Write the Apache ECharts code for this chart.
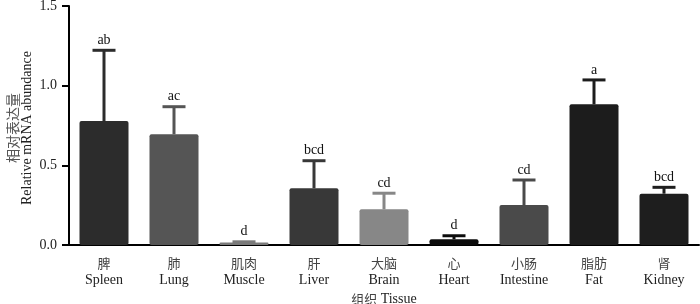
<!DOCTYPE html>
<html>
<head>
<meta charset="utf-8">
<script src="https://cdn.jsdelivr.net/npm/echarts@6/dist/echarts.min.js"></script>
<style>html,body{margin:0;padding:0;background:#fff}#c{width:700px;height:304px}</style>
</head>
<body>
<div id="c"></div>
<script>
var categoriesCn = ['脾','肺','肌肉','肝','大脑','心','小肠','脂肪','肾'];
var categoriesEn = ['Spleen','Lung','Muscle','Liver','Brain','Heart','Intestine','Fat','Kidney'];
var means = [0.778, 0.695, 0.015, 0.356, 0.224, 0.036, 0.251, 0.883, 0.322];
var errors = [0.444, 0.173, 0.005, 0.173, 0.101, 0.022, 0.157, 0.153, 0.040];
var letters = ['ab','ac','d','bcd','cd','d','cd','a','bcd'];
var barColors = ['#2c2c2c','#555555','#7a7a7a','#383838','#878787','#0c0c0c','#4a4a4a','#1c1c1c','#1e1e1e'];
var yTicks = [0, 0.5, 1.0, 1.5];
var yTitleCn = '相对表达量';
var yTitleEn = 'Relative mRNA abundance';

var serif = '"Liberation Serif","Times New Roman",serif';
var cjk = '"Noto Sans CJK SC",sans-serif';

var chart = echarts.init(document.getElementById('c'), null, {renderer:'canvas'});
chart.setOption({
  animation: false,
  grid: {left: 69, right: 1, top: 6, bottom: 59, containLabel: false, outerBoundsMode: 'none'},
  graphic: [
    {type: 'text', x: 12.5, y: 128, rotation: Math.PI / 2,
     style: {text: yTitleCn, fontFamily: cjk, fontSize: 14, fill: '#555', align: 'center', verticalAlign: 'middle'}},
    {type: 'text', x: 27.5, y: 128, rotation: Math.PI / 2,
     style: {text: yTitleEn, fontFamily: serif, fontSize: 14, fill: '#222', align: 'center', verticalAlign: 'middle'}}
  ],
  xAxis: {
    type: 'category',
    data: categoriesCn.map(function(c, i){ return c + '\n' + categoriesEn[i]; }),
    name: '{cn|组织} {en|Tissue}',
    nameLocation: 'middle',
    nameGap: 45,
    nameTextStyle: {
      rich: {
        cn: {fontFamily: cjk, fontSize: 13, color: '#444'},
        en: {fontFamily: serif, fontSize: 14, color: '#222'}
      }
    },
    axisLine: {lineStyle: {color: '#000', width: 2}},
    axisTick: {alignWithLabel: true, length: 5, lineStyle: {color: '#000', width: 2}},
    axisLabel: {
      margin: 10,
      interval: 0,
      formatter: function(v){
        var p = v.split('\n');
        return '{cn|' + p[0] + '}\n{en|' + p[1] + '}';
      },
      rich: {
        cn: {fontFamily: cjk, fontSize: 13, color: '#444', lineHeight: 17, align: 'center'},
        en: {fontFamily: serif, fontSize: 14, color: '#222', lineHeight: 17, align: 'center'}
      }
    },
    splitLine: {show: false}
  },
  yAxis: {
    type: 'value',
    min: yTicks[0],
    max: yTicks[yTicks.length - 1],
    interval: 0.5,
    axisLine: {show: true, lineStyle: {color: '#000', width: 2}},
    axisTick: {show: true, length: 7, lineStyle: {color: '#000', width: 2}},
    axisLabel: {
      margin: 12,
      fontFamily: serif, fontSize: 14, color: '#222',
      formatter: function(v){ return v.toFixed(1); }
    },
    splitLine: {show: false}
  },
  series: [
    {
      type: 'bar',
      barWidth: 49,
      data: means.map(function(v, i){
        return {value: v, itemStyle: {color: barColors[i], borderRadius: 2}};
      }),
      z: 2
    },
    {
      type: 'custom',
      z: 3,
      data: means.map(function(v, i){ return [i, v, errors[i]]; }),
      renderItem: function(params, api){
        var idx = api.value(0), m = api.value(1), e = api.value(2);
        var p0 = api.coord([idx, m]);
        var p1 = api.coord([idx, m + e]);
        var col = barColors[idx];
        var half = 11.5;
        return {
          type: 'group',
          children: [
            {type: 'line', shape: {x1: p0[0], y1: p0[1], x2: p1[0], y2: p1[1]}, style: {stroke: col, lineWidth: 3}},
            {type: 'line', shape: {x1: p1[0] - half, y1: p1[1], x2: p1[0] + half, y2: p1[1]}, style: {stroke: col, lineWidth: 3}},
            {type: 'text', x: p1[0], y: p1[1] - 3, style: {text: letters[idx], fontFamily: serif, fontSize: 14, fill: '#111', align: 'center', verticalAlign: 'bottom'}}
          ]
        };
      }
    }
  ]
});
</script>
</body>
</html>
